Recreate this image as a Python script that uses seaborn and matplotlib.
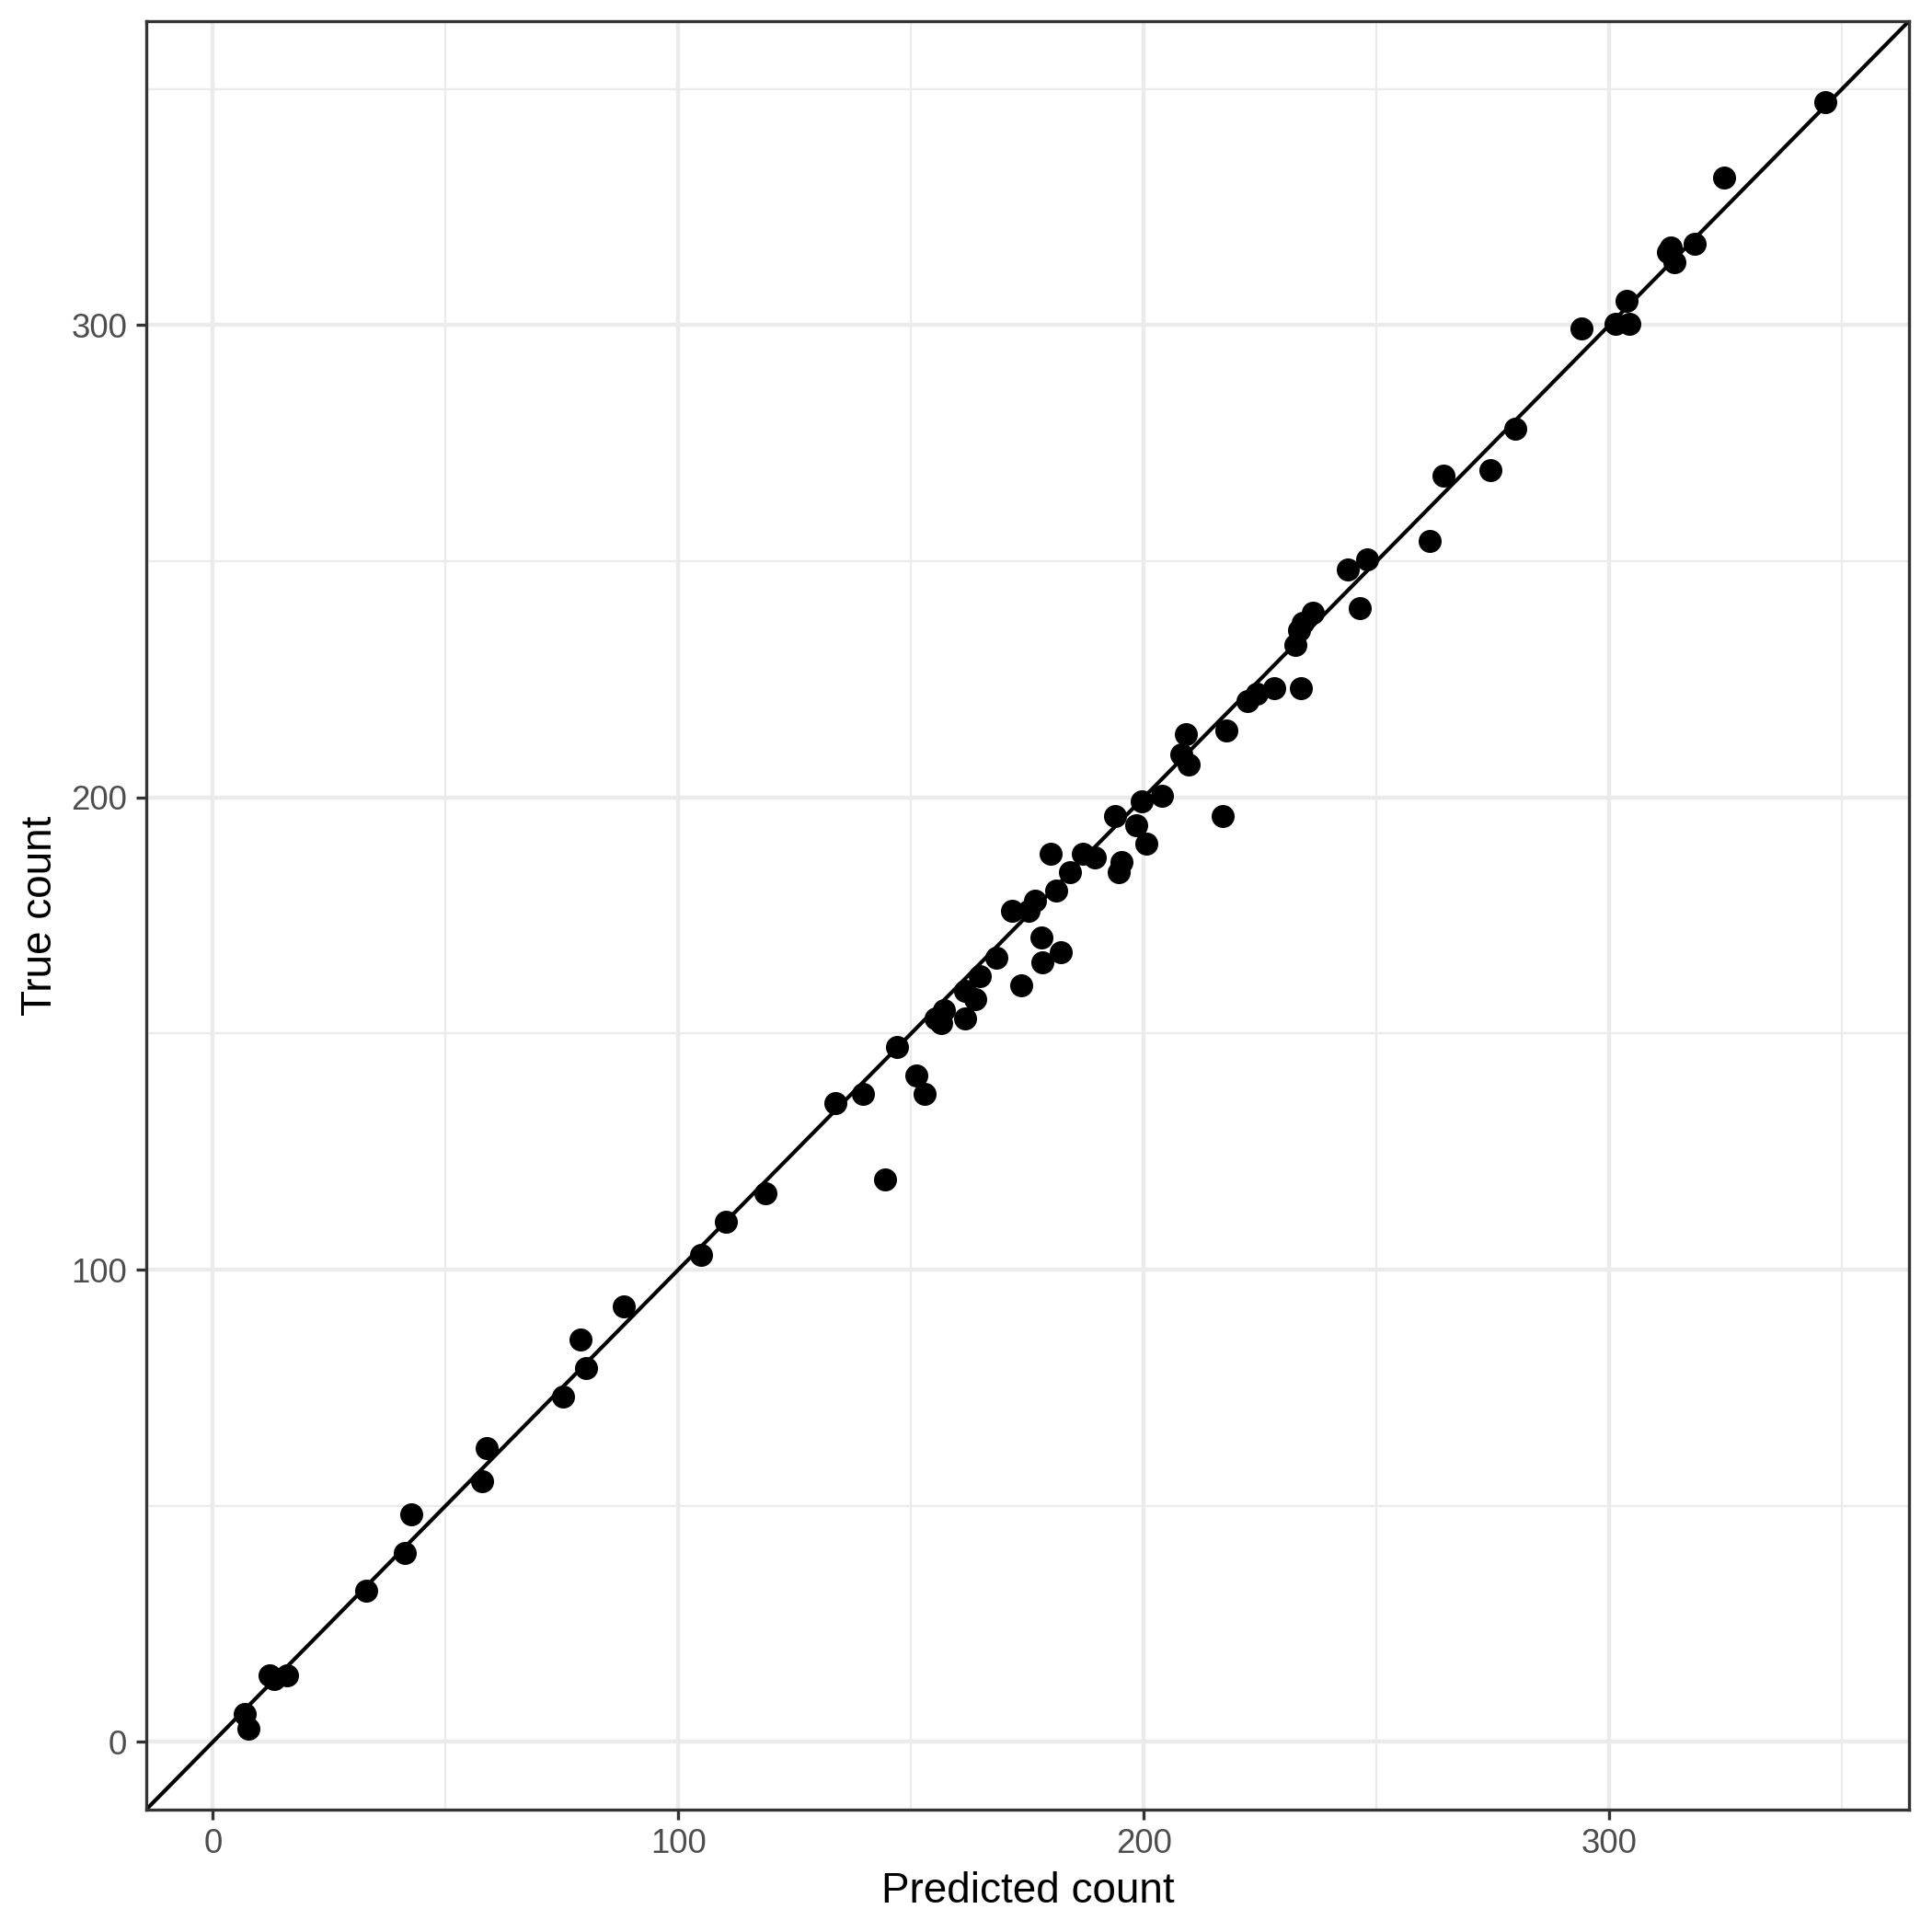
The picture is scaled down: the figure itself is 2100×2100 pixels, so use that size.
import numpy as np
import pandas as pd
import seaborn as sns
import matplotlib
matplotlib.use("Agg")
import matplotlib.pyplot as plt
from matplotlib.ticker import MultipleLocator

predicted = [6.9, 7.7, 12.2, 13.2, 15.9, 33.0, 41.2, 42.6, 57.9, 58.9,
             75.3, 80.1, 79.0, 88.3, 104.9, 110.2, 118.7, 144.3, 133.8, 139.6,
             152.8, 151.2, 147.0, 155.2, 156.5, 157.0, 161.5, 163.7, 161.5, 164.7,
             173.7, 168.4, 178.2, 182.1, 177.9, 171.6, 175.3, 176.6, 181.1, 180.0,
             184.2, 186.9, 189.5, 194.5, 195.1, 193.8, 198.3, 200.6, 199.6, 203.8,
             217.0, 208.0, 209.6, 209.1, 217.8, 222.3, 224.2, 227.9, 233.7, 232.6,
             233.4, 234.2, 236.3, 246.4, 243.7, 248.0, 261.4, 264.3, 274.4, 279.7,
             293.9, 301.3, 304.3, 303.7, 312.5, 313.2, 314.0, 318.3, 324.6, 346.3]
true = [6.0, 2.9, 14.1, 13.3, 14.1, 32.0, 40.1, 48.2, 55.2, 62.2,
        73.2, 79.2, 85.2, 92.2, 103.1, 110.2, 116.1, 119.0, 135.2, 137.2,
        137.2, 141.1, 147.1, 153.1, 152.3, 155.0, 153.1, 157.3, 159.1, 162.2,
        160.2, 166.1, 165.1, 167.2, 170.3, 176.0, 176.0, 178.1, 180.2, 188.0,
        184.1, 188.0, 187.2, 184.1, 186.2, 196.1, 194.0, 190.1, 199.2, 200.3,
        196.1, 209.1, 207.0, 213.3, 214.1, 220.3, 221.9, 223.2, 223.2, 232.3,
        235.4, 237.0, 239.1, 240.1, 248.2, 250.3, 254.2, 268.2, 269.3, 278.1,
        299.2, 300.3, 300.3, 305.2, 315.4, 316.4, 313.3, 317.2, 331.2, 347.1]
major_ticks = [0, 100, 200, 300]

df = pd.DataFrame({"Predicted count": predicted, "True count": true})

sns.set_style("white")
plt.rcParams["font.family"] = ["Liberation Sans", "DejaVu Sans"]

fig = plt.figure(figsize=(7, 7), dpi=300)
ax = fig.add_axes([0.0757, 0.0634, 0.988 - 0.0757, 0.989 - 0.0634])

lo = min(min(predicted), min(true))
hi = max(max(predicted), max(true))
pad = (hi - lo) * 0.05
lims = (lo - pad, hi + pad)

ax.set_xlim(lims)
ax.set_ylim(lims)
ax.set_xticks(major_ticks)
ax.set_yticks(major_ticks)
ax.xaxis.set_minor_locator(MultipleLocator(50))
ax.yaxis.set_minor_locator(MultipleLocator(50))
ax.grid(which="major", color="#EBEBEB", linewidth=1.07)
ax.grid(which="minor", color="#EBEBEB", linewidth=0.53)
ax.set_axisbelow(True)

ax.axline((0, 0), slope=1, color="black", linewidth=1.0, zorder=2)

sns.scatterplot(data=df, x="Predicted count", y="True count", ax=ax,
                color="black", s=36, linewidth=0, zorder=3)

for sp in ax.spines.values():
    sp.set_color("#333333")
    sp.set_linewidth(0.8)
    sp.set_visible(True)

ax.tick_params(which="major", direction="out", length=2.75, width=0.8,
               color="#333333", labelsize=8.8, labelcolor="#4D4D4D", pad=2.2,
               bottom=True, left=True)
ax.tick_params(which="minor", length=0)
ax.set_xlabel("Predicted count", fontsize=11, color="black", labelpad=2.75)
ax.set_ylabel("True count", fontsize=11, color="black", labelpad=2.75)

fig.savefig("out.png", dpi=300)
